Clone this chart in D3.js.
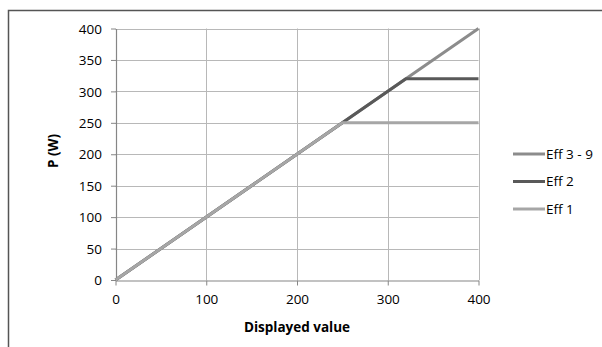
<!DOCTYPE html>
<html><head><meta charset="utf-8">
<script src="https://cdn.jsdelivr.net/npm/d3@7"></script>
<style>
html,body{margin:0;padding:0;background:#fff;}
svg{display:block;font-family:"Open Sans","Liberation Sans",sans-serif;}
</style></head>
<body><svg id="c" width="602" height="347"></svg>
<script>
const xValues = [0, 250, 320, 400];
const seriesNames = ["Eff 3 - 9", "Eff 2", "Eff 1"];
const eff39 = [0, 250, 320, 400];
const eff2 = [0, 250, 320, 320];
const eff1 = [0, 250, 250, 250];
const xTicks = [0, 100, 200, 300, 400];
const yTicks = [0, 50, 100, 150, 200, 250, 300, 350, 400];
const seriesColors = ["#8c8c8c", "#595959", "#a6a6a6"];
const seriesData = [eff39, eff2, eff1];
const fs = "13.5px";

const svg = d3.select("#c");
svg.append("path").attr("d","M8.5,347 L8.5,10.5 L602,10.5").attr("fill","none").attr("stroke","#555").attr("stroke-width",1.5);

const x = d3.scaleLinear().domain([0,400]).range([115.5,478.5]);
const y = d3.scaleLinear().domain([0,400]).range([280,28.5]);

const g = svg.append("g");
g.selectAll(".hg").data(yTicks.filter(d=>d>0)).enter().append("line")
  .attr("x1",x(0)).attr("x2",x(400)).attr("y1",d=>Math.round(y(d))+0.5).attr("y2",d=>Math.round(y(d))+0.5)
  .attr("stroke","#b8b8b8").attr("stroke-width",1);
g.selectAll(".vg").data(xTicks.filter(d=>d>0)).enter().append("line")
  .attr("y1",y(0)).attr("y2",y(400)).attr("x1",d=>Math.round(x(d))+0.5).attr("x2",d=>Math.round(x(d))+0.5)
  .attr("stroke","#b8b8b8").attr("stroke-width",1);

const xAxis = d3.axisBottom(x).tickValues(xTicks).tickSizeInner(5).tickSizeOuter(0).tickPadding(9);
const yAxis = d3.axisLeft(y).tickValues(yTicks).tickSizeInner(5).tickSizeOuter(0).tickPadding(9);
const gx = svg.append("g").attr("transform",`translate(0,${Math.round(y(0))+0.5})`).call(xAxis);
const gy = svg.append("g").attr("transform",`translate(${Math.round(x(0))},0)`).call(yAxis);
[gx,gy].forEach(a=>{
  a.select(".domain").attr("stroke","#868686").attr("stroke-width",1.2);
  a.selectAll(".tick line").attr("stroke","#868686");
  a.selectAll(".tick text").attr("fill","#000").style("font-size",fs).style("font-family","'Open Sans',sans-serif");
});
gy.selectAll(".tick text").attr("dy","0.35em");

const line = d3.line().x((d,i)=>x(xValues[i])).y(d=>y(d));
svg.append("g").selectAll("path").data(seriesData).enter().append("path")
  .attr("d",d=>line(d)).attr("fill","none")
  .attr("stroke",(d,i)=>seriesColors[i]).attr("stroke-width",3).attr("stroke-linejoin","round");

svg.append("text").attr("x",297).attr("y",332).attr("text-anchor","middle")
  .style("font-weight","bold").style("font-size",fs).text("Displayed value");
svg.append("text").attr("transform","translate(53,151) rotate(-90)").attr("text-anchor","middle").attr("dy","0.35em")
  .style("font-weight","bold").style("font-size",fs).text("P (W)");

const legY = [154, 181.5, 209];
const lg = svg.append("g");
seriesNames.forEach((n,i)=>{
  lg.append("line").attr("x1",513).attr("x2",545).attr("y1",legY[i]).attr("y2",legY[i])
    .attr("stroke",seriesColors[i]).attr("stroke-width",3);
  lg.append("text").attr("x",546).attr("y",legY[i]).attr("dy","0.35em")
    .style("font-size",fs).text(n);
});
</script></body></html>
